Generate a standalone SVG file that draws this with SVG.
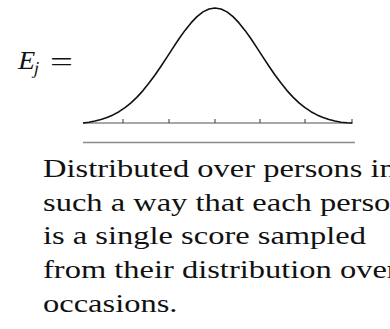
<svg xmlns="http://www.w3.org/2000/svg" width="390" height="329" viewBox="0 0 390 329">
<style>
.ax{stroke:#8a8a8a;stroke-width:1.5;fill:none}
.tk{stroke:#555;stroke-width:1.2}
.cv{stroke:#111;stroke-width:1.6;fill:none;stroke-linejoin:round}
</style>
<rect width="390" height="329" fill="#fff"/>
<g id="label-eq" fill="#111">
<text transform="translate(17,69) skewX(-12) scale(1.05,1)" x="0" y="0" font-family="Liberation Serif" font-size="26">E</text>
<text transform="translate(33,74) skewX(-12)" x="0" y="0" font-family="Liberation Serif" font-size="18">j</text>
<text transform="translate(50,71) scale(1.45,1)" x="0" y="0" font-family="Liberation Serif" font-size="28">=</text>
</g>
<g id="distribution">
<line class="ax" x1="83" y1="123" x2="353" y2="123"/>
<g class="tk">
<line x1="123" y1="119" x2="123" y2="123"/>
<line x1="169" y1="119" x2="169" y2="123"/>
<line x1="215" y1="119" x2="215" y2="123"/>
<line x1="260" y1="119" x2="260" y2="123"/>
<line x1="305" y1="119" x2="305" y2="123"/>
<line x1="352" y1="119" x2="352" y2="123"/>
</g>
<polyline class="cv" points="83,123 89,122.2 95,121 101,119.5 107,117.5 113,114.9 119,111.7 125,107.7 131,102.8 137,97.1 143,90.6 149,83.1 155,75 161,66.2 167,57.1 173,47.9 179,38.8 185,30.4 191,22.9 197,16.6 203,11.9 209,9 215,8 221,9 227,11.9 233,16.6 239,22.9 245,30.4 251,38.8 257,47.9 263,57.1 269,66.2 275,75 281,83.1 287,90.6 293,97.1 299,102.8 305,107.7 311,111.7 317,114.9 323,117.5 329,119.5 335,121 341,122.2 347,122.8 352,123"/>
</g>
<line class="ax" x1="83" y1="142.5" x2="355" y2="142.5"/>
<g id="desc" fill="#111">
<text transform="translate(43,177) scale(1.25,1)" x="0" y="0" font-family="Liberation Serif" font-size="26">Distributed over persons in</text>
<text transform="translate(43,211) scale(1.25,1)" x="0" y="0" font-family="Liberation Serif" font-size="26">such a way that each person</text>
<text transform="translate(43,244) scale(1.25,1)" x="0" y="0" font-family="Liberation Serif" font-size="26">is a single score sampled</text>
<text transform="translate(43,278) scale(1.25,1)" x="0" y="0" font-family="Liberation Serif" font-size="26">from their distribution over</text>
<text transform="translate(43,312) scale(1.25,1)" x="0" y="0" font-family="Liberation Serif" font-size="26">occasions.</text>
</g>
</svg>
